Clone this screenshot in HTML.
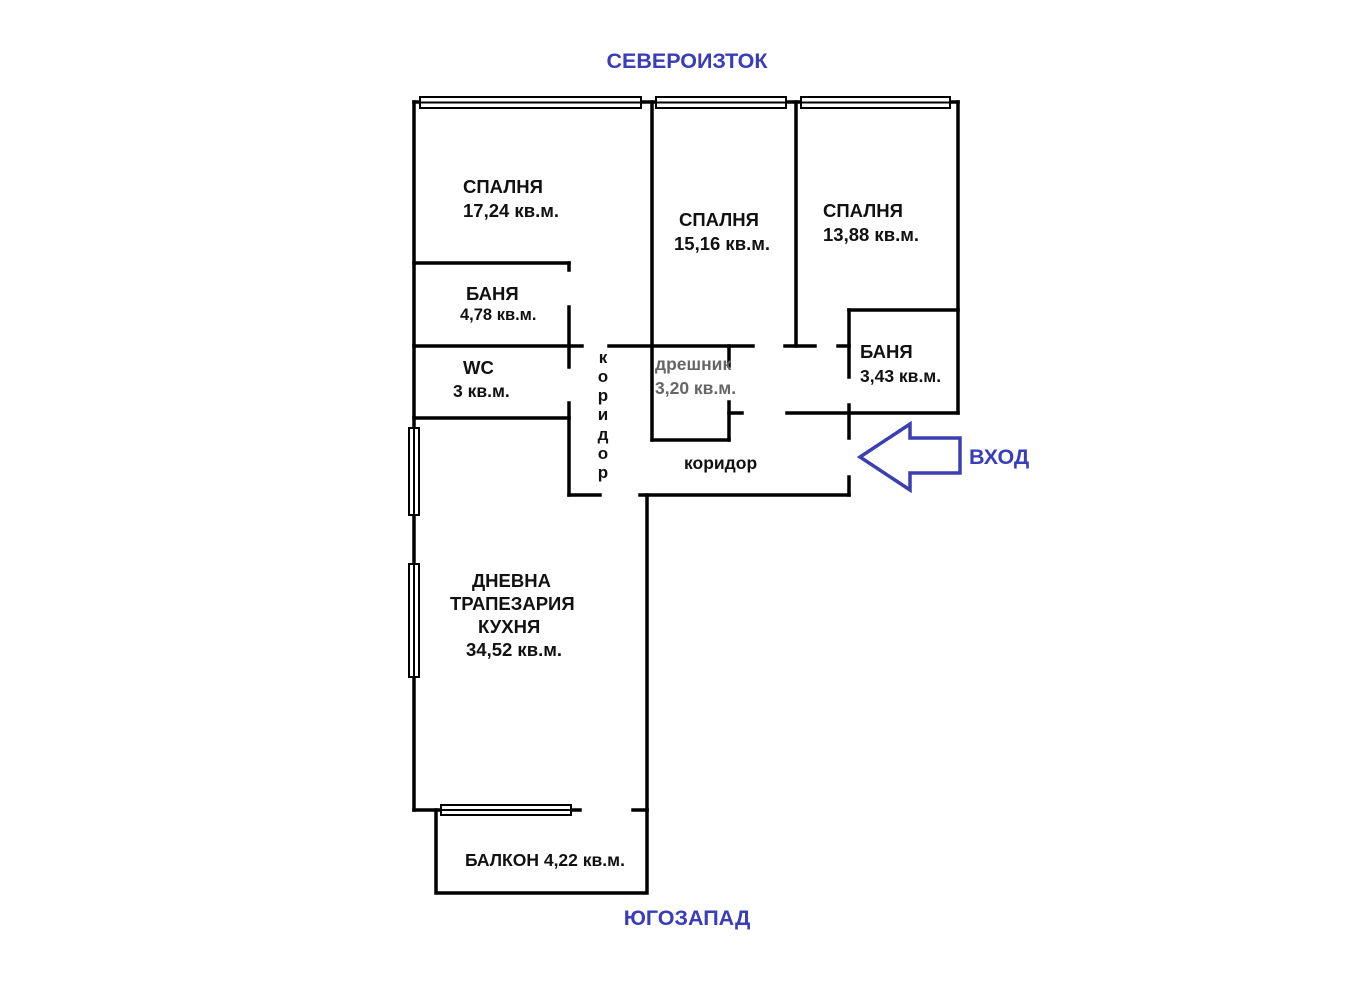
<!DOCTYPE html>
<html><head><meta charset="utf-8"><style>
html,body{margin:0;padding:0;background:#fff;}
svg{display:block;}
text{font-family:"Liberation Sans",Arial,sans-serif;font-weight:bold;}
</style></head><body>
<svg width="1370" height="1000" viewBox="0 0 1370 1000" xmlns="http://www.w3.org/2000/svg">
<rect width="1370" height="1000" fill="#fff"/>
<g stroke="#000" stroke-width="3.5" fill="none" stroke-linecap="square">
<line x1="414" y1="102" x2="958" y2="102"/>
<line x1="414" y1="102" x2="414" y2="810"/>
<line x1="958" y1="102" x2="958" y2="413"/>
<line x1="414" y1="263" x2="569" y2="263"/>
<line x1="569" y1="263" x2="569" y2="270"/>
<line x1="569" y1="307" x2="569" y2="367"/>
<line x1="414" y1="346" x2="582" y2="346"/>
<line x1="609" y1="346" x2="753" y2="346"/>
<line x1="414" y1="418" x2="569" y2="418"/>
<line x1="569" y1="403" x2="569" y2="495"/>
<line x1="569" y1="495" x2="600" y2="495"/>
<line x1="652" y1="102" x2="652" y2="440"/>
<line x1="796" y1="102" x2="796" y2="346"/>
<line x1="785" y1="346" x2="815" y2="346"/>
<line x1="838" y1="346" x2="849" y2="346"/>
<line x1="652" y1="440" x2="729" y2="440"/>
<line x1="729" y1="346" x2="729" y2="366"/>
<line x1="729" y1="402" x2="729" y2="440"/>
<line x1="729" y1="413" x2="742" y2="413"/>
<line x1="849" y1="310" x2="958" y2="310"/>
<line x1="849" y1="310" x2="849" y2="377"/>
<line x1="787" y1="413" x2="958" y2="413"/>
<line x1="849" y1="405" x2="849" y2="438"/>
<line x1="849" y1="477" x2="849" y2="495"/>
<line x1="640" y1="495" x2="849" y2="495"/>
<line x1="647" y1="495" x2="647" y2="810"/>
<line x1="414" y1="810" x2="580" y2="810"/>
<line x1="633" y1="810" x2="647" y2="810"/>
<polyline points="436,810 436,893 647,893 647,810"/>
</g>
<g stroke="#000" stroke-width="2" fill="#fff">
<rect x="420" y="97" width="221" height="11"/><line x1="420" y1="102.5" x2="641" y2="102.5"/>
<rect x="656" y="97" width="130" height="11"/><line x1="656" y1="102.5" x2="786" y2="102.5"/>
<rect x="801" y="97" width="149" height="11"/><line x1="801" y1="102.5" x2="950" y2="102.5"/>
<rect x="409" y="428" width="10" height="87"/><line x1="414" y1="428" x2="414" y2="515"/>
<rect x="409" y="564" width="10" height="113"/><line x1="414" y1="564" x2="414" y2="677"/>
<rect x="441" y="805" width="130" height="10"/><line x1="441" y1="810" x2="571" y2="810"/>
</g>
<polygon points="860,457 910,424 910,438 960,438 960,473 910,473 910,490" fill="#fff" stroke="#3b3fb0" stroke-width="3.5" stroke-linejoin="miter"/>
<g fill="#3a3db8" font-size="21.5">
<text x="687" y="68" text-anchor="middle">СЕВЕРОИЗТОК</text>
<text x="687" y="925" text-anchor="middle">ЮГОЗАПАД</text>
<text x="969" y="464">ВХОД</text>
</g>
<g fill="#111" font-size="18.5">
<text x="463" y="193">СПАЛНЯ</text>
<text x="463" y="217">17,24 кв.м.</text>
<text x="679" y="226">СПАЛНЯ</text>
<text x="674" y="250">15,16 кв.м.</text>
<text x="823" y="217">СПАЛНЯ</text>
<text x="823" y="241">13,88 кв.м.</text>
<text x="466" y="300">БАНЯ</text>
<text x="460" y="320" font-size="16.5">4,78 кв.м.</text>
<text x="463" y="374">WC</text>
<text x="453" y="397" font-size="17.5">3 кв.м.</text>
<text x="860" y="358">БАНЯ</text>
<text x="860" y="382" font-size="17.5">3,43 кв.м.</text>
<text x="655" y="370" font-size="17.5" fill="#666">дрешник</text>
<text x="655" y="394" font-size="17.5" fill="#666">3,20 кв.м.</text>
<text x="684" y="469" font-size="17.5">коридор</text>
<text x="472" y="587">ДНЕВНА</text>
<text x="450" y="610">ТРАПЕЗАРИЯ</text>
<text x="478" y="633">КУХНЯ</text>
<text x="466" y="656">34,52 кв.м.</text>
<text x="465" y="866" font-size="17.5">БАЛКОН 4,22 кв.м.</text>
</g>
<g fill="#111" font-size="17" text-anchor="middle">
<text x="603" y="363">к</text><text x="603" y="382">о</text><text x="603" y="401">р</text><text x="603" y="420">и</text><text x="603" y="440">д</text><text x="603" y="459">о</text><text x="603" y="478">р</text>
</g>
</svg>
</body></html>
